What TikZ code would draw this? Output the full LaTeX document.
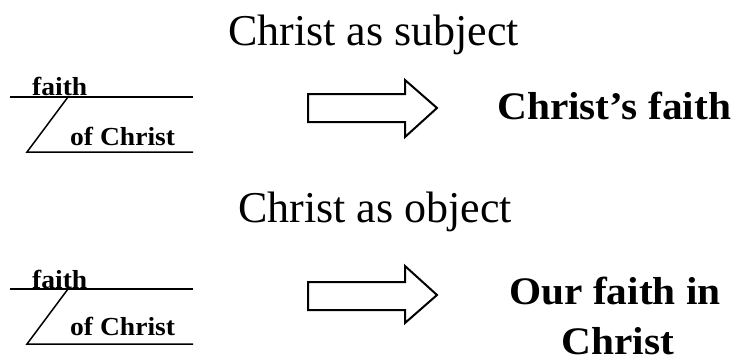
\documentclass[tikz,border=0pt]{standalone}
\usepackage{fontspec}
\setmainfont{Liberation Serif}[BoldFeatures={FakeStretch=1.06}]
\begin{document}
\begin{tikzpicture}[x=1pt,y=-1pt,
  head/.style={inner sep=0pt,font=\fontsize{44}{50}\selectfont},
  result/.style={inner sep=0pt,font=\fontsize{39}{44}\selectfont\bfseries},
  word/.style={inner sep=0pt,font=\fontsize{26}{30}\selectfont\bfseries},
  rule/.style={line width=1.5pt},
  bigarrow/.style={draw,line width=2pt,line join=miter,fill=white}]
\useasboundingbox (0,0) rectangle (740,362);
% headings
\node[head,anchor=base west] (subj) at (228,45) {Christ as subject};
\node[head,anchor=base west] (obj) at (238,222) {Christ as object};
% diagram 1
\coordinate (a1) at (10,97);
\coordinate (b1) at (193,97);
\coordinate (c1) at (68,97);
\coordinate (d1) at (27,152);
\coordinate (e1) at (193,152);
\draw[rule] (a1) -- (b1);
\draw[rule] (c1) -- (d1) -- (e1);
\node[word,anchor=base west] (f1) at (32,95) {faith};
\node[word,anchor=base west] (g1) at (70,145) {of Christ};
% diagram 2
\coordinate (a2) at (10,289);
\coordinate (b2) at (193,289);
\coordinate (c2) at (68,289);
\coordinate (d2) at (27,344);
\coordinate (e2) at (193,344);
\draw[rule] (a2) -- (b2);
\draw[rule] (c2) -- (d2) -- (e2);
\node[word,anchor=base west] (f2) at (32,288) {faith};
\node[word,anchor=base west] (g2) at (70,335) {of Christ};
% arrows
\draw[bigarrow] (308,94) -- (405,94) -- (405,80) -- (437,108) -- (405,137) -- (405,122) -- (308,122) -- cycle;
\draw[bigarrow] (308,282) -- (405,282) -- (405,266) -- (437,295) -- (405,323) -- (405,310) -- (308,310) -- cycle;
% results
\node[result,anchor=base west] (r1) at (497,119) {Christ’s faith};
\node[result,anchor=base] (r2a) at (615,304) {Our faith in};
\node[result,anchor=base] (r2b) at (618,354) {Christ};
\end{tikzpicture}
\end{document}
